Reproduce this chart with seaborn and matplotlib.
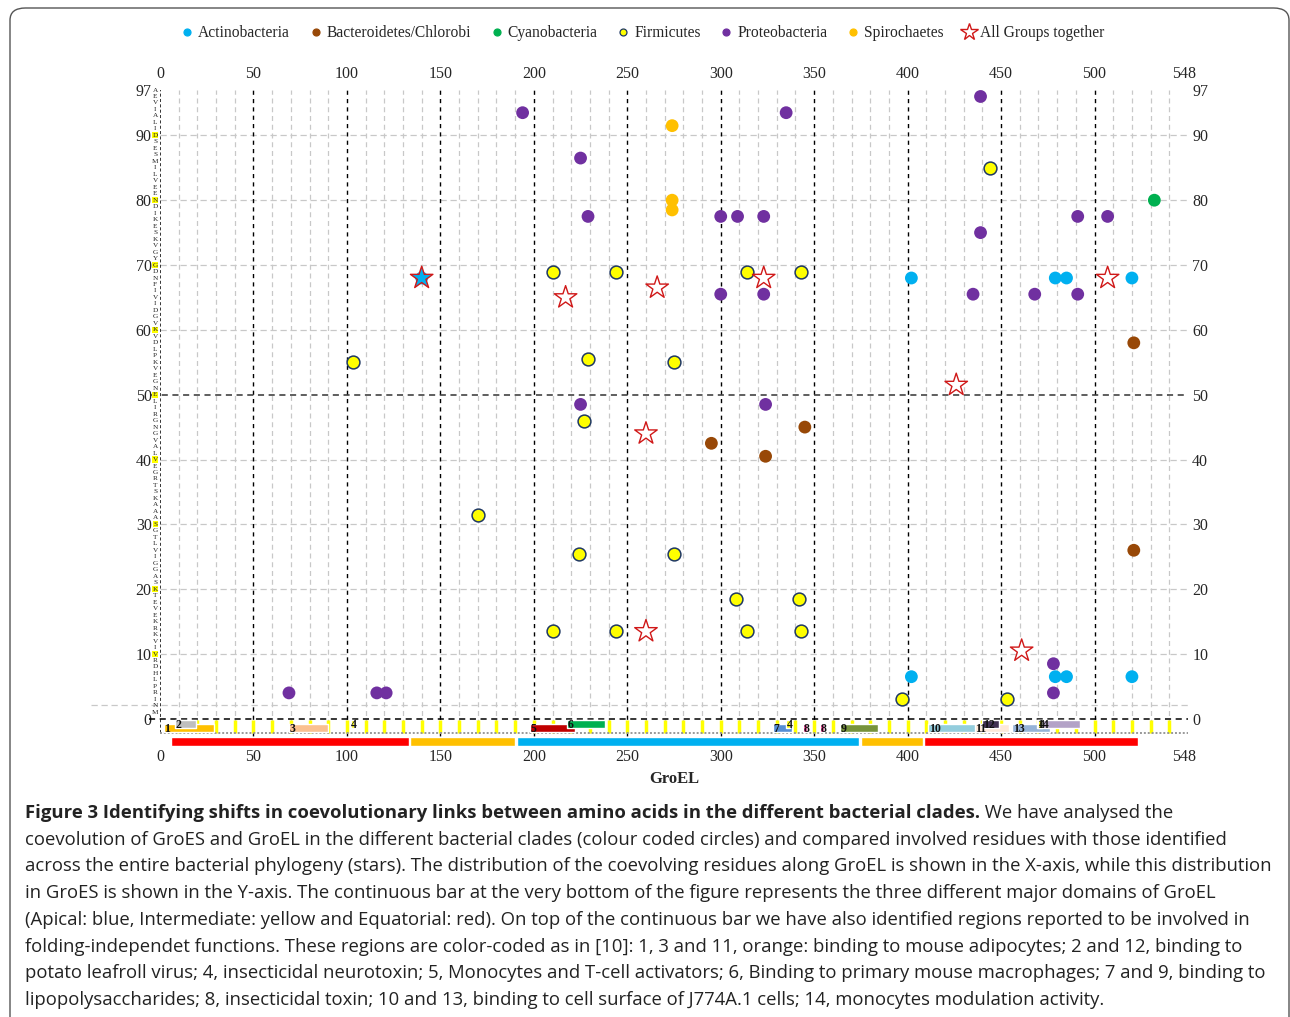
import numpy as np
import pandas as pd
import matplotlib.pyplot as plt
import matplotlib.transforms as mtrans
import seaborn as sns
from matplotlib.lines import Line2D
from matplotlib.patches import FancyBboxPatch

# GroEL residue (x) vs GroES residue (y) of the coevolving pairs, per clade
actino_x = [140, 402, 479, 485, 520, 402, 479, 485, 520]
actino_y = [68, 68, 68, 68, 68, 6.5, 6.5, 6.5, 6.5]
bactero_x = [295, 324, 345, 521, 521]
bactero_y = [42.5, 40.5, 45, 58, 26]
cyano_x = [532]
cyano_y = [80]
firmi_x = [103, 210, 244, 314, 343, 229, 275, 227, 170, 224, 275, 210, 244, 314, 343, 308, 342, 444, 397, 453]
firmi_y = [55, 69, 69, 69, 69, 55.5, 55, 46, 31.5, 25.5, 25.5, 13.5, 13.5, 13.5, 13.5, 18.5, 18.5, 85, 3, 3]
proteo_x = [194, 335, 225, 229, 300, 309, 323, 491, 507, 439, 439, 300, 323, 435, 468, 491, 225, 324, 69, 116, 121, 478, 478]
proteo_y = [93.5, 93.5, 86.5, 77.5, 77.5, 77.5, 77.5, 77.5, 77.5, 96, 75, 65.5, 65.5, 65.5, 65.5, 65.5, 48.5, 48.5, 4, 4, 4, 8.5, 4]
spiro_x = [274, 274, 274]
spiro_y = [91.5, 80, 78.5]
all_x = [140, 217, 266, 323, 507, 426, 260, 260, 461]
all_y = [68, 65, 66.5, 68, 68, 51.5, 44, 13.5, 10.5]

clades = ["Actinobacteria", "Bacteroidetes/Chlorobi", "Cyanobacteria", "Firmicutes",
          "Proteobacteria", "Spirochaetes"]
clade_x = [actino_x, bactero_x, cyano_x, firmi_x, proteo_x, spiro_x]
clade_y = [actino_y, bactero_y, cyano_y, firmi_y, proteo_y, spiro_y]
clade_colors = ["#00B0F0", "#984807", "#00B050", "#FFFF00", "#7030A0", "#FFC000"]

# GroES sequence (E. coli), residue 1..97
groes_seq = "MNIRPLHDRVIVKRKEVETKSAGGIVLTGSAAAKSTRGEVLAVGNGRILENGEVKPLDVKVGDIVIFNDGYGVKSEKIDNEEVLIMSESDILAIVEA"

# GroEL domains
dom_start = [6, 134, 191, 375, 409]
dom_end = [133, 190, 374, 408, 523]
dom_colors = ["#FF0000", "#FFC000", "#00B0F0", "#FFC000", "#FF0000"]

# folding-independent regions (start, end, label)
reg_start = [2, 8, 69, 102, 198, 218, 328, 335, 344, 353, 364, 411, 436, 440, 456, 469, 470]
reg_end = [29, 19, 90, 104, 222, 238, 338, 337, 346, 355, 384, 440, 454, 449, 476, 492, 472]
reg_label = ["1", "2", "3", "4", "5", "6", "7", "4", "8", "8", "9", "10", "11", "12", "13", "14", "4"]
reg_row = [0, 1, 0, 1, 0, 1, 0, 1, 0, 0, 0, 0, 0, 1, 0, 1, 1]
reg_colors = {"1": "#FFC000", "2": "#BFBFBF", "3": "#FAC090", "4": "#FFFF00", "5": "#C00000",
              "6": "#00B050", "7": "#558ED5", "8": "#FF3399", "9": "#77933C", "10": "#93CDDD",
              "11": "#FDE9D9", "12": "#403152", "13": "#95B3D7", "14": "#B3A2C7"}

x_ticks = [0, 50, 100, 150, 200, 250, 300, 350, 400, 450, 500, 548]
y_ticks = [0, 10, 20, 30, 40, 50, 60, 70, 80, 90, 97]

W, H = 1290, 1017
sns.set_theme(style="white")
plt.rcParams["font.family"] = ["Liberation Serif", "DejaVu Serif"]

fig = plt.figure(figsize=(W / 100, H / 100), dpi=100)
ax = fig.add_axes([160 / W, 1 - 748 / H, 1028 / W, 658 / H])
ax.set_xlim(0, 550)
ax.set_ylim(-4.5, 97)
for s in ax.spines.values():
    s.set_visible(False)

# grid
for v in range(10, 550, 10):
    if v % 50:
        ax.vlines(v, -2.2, 97, color="#C8C8C8", ls=(0, (4, 3)), lw=0.9, zorder=0)
    elif v <= 500:
        ax.vlines(v, -2.6, 97, color="black", ls=(0, (3, 3)), lw=1.0, zorder=1)
for h in range(10, 100, 10):
    if h != 50:
        ax.hlines(h, 0, 550, color="#C8C8C8", ls=(0, (5, 3)), lw=0.9, zorder=0)
ax.hlines(2.2, -37, 550, color="#C8C8C8", ls=(0, (5, 3)), lw=0.9, zorder=0, clip_on=False)
ax.hlines(50, -5, 550, color="#333333", ls=(0, (4, 3)), lw=1.1, zorder=1, clip_on=False)
ax.hlines(0, -6, 550, color="black", ls=(0, (4, 3)), lw=1.1, zorder=1, clip_on=False)
ax.vlines(0, -2.2, 97, color="black", ls=(0, (2, 1.5)), lw=1.1, zorder=1)

# bottom strip
ax.vlines(range(10, 550, 10), -2.2, -0.2, color="#FFFF00", lw=2.5, zorder=1)
ax.hlines(-2.2, 0, 550, color="#999999", ls=(0, (1, 1)), lw=1.4, zorder=2)
for s0, s1, c in zip(dom_start, dom_end, dom_colors):
    ax.broken_barh([(s0, s1 - s0)], (-4.15, 1.35), facecolors=c, zorder=3)
for s0, s1, lab, row in zip(reg_start, reg_end, reg_label, reg_row):
    y0 = -2.05 if row == 0 else -1.45
    ax.broken_barh([(s0, s1 - s0)], (y0, 1.3), facecolors=reg_colors[lab], zorder=3 + row)
    ax.text(s0 + 0.3, y0 + 0.55, lab, fontsize=8.5, fontweight="bold", color="#111111",
            ha="left", va="center", zorder=6)

# GroES sequence along the y axis
for i, aa in enumerate(groes_seq, start=1):
    kw = {}
    if i % 10 == 0:
        kw["bbox"] = dict(boxstyle="square,pad=0.08", fc="#FFFF00", ec="none")
    ax.text(-2.6, i, aa, fontsize=5.2, color="#222222", ha="center", va="center",
            clip_on=False, **kw)

# clade points
for name, xs, ys, c in zip(clades, clade_x, clade_y, clade_colors):
    df = pd.DataFrame({"GroEL": xs, "GroES": ys})
    ec = "#1F3864" if name == "Firmicutes" else "none"
    sns.scatterplot(data=df, x="GroEL", y="GroES", ax=ax, color=c, s=85,
                    edgecolor=ec, linewidth=1.1 if name == "Firmicutes" else 0, zorder=5)

# all groups together
star_fill = ["#00B0F0" if (x, y) in zip(actino_x, actino_y) else "white" for x, y in zip(all_x, all_y)]
ax.scatter(all_x, all_y, marker="*", s=290, facecolors=star_fill, edgecolors="#D01818",
           linewidths=1.0, zorder=6)

ax.set_xticks(x_ticks)
ax.set_yticks(y_ticks)
ax.tick_params(axis="x", labeltop=True, top=False, bottom=False, length=0, labelsize=11.5, pad=1)
ax.tick_params(axis="y", labelright=True, left=False, right=False, length=0, labelsize=11.5, pad=6)
ax.set_xlabel("GroEL", fontsize=12, fontweight="bold", labelpad=4)
ax.set_ylabel("")
ax.grid(False)

top_off = mtrans.ScaledTranslation(0, 4.7 / 72, fig.dpi_scale_trans)
for t in ax.xaxis.get_major_ticks():
    t.label2.set_transform(t.label2.get_transform() + top_off)
right_off = mtrans.ScaledTranslation(-3 / 72, 0, fig.dpi_scale_trans)
for t in ax.yaxis.get_major_ticks():
    t.label2.set_transform(t.label2.get_transform() + right_off)

# legend
handles = []
for name, c in zip(clades, clade_colors):
    ec = "#1F3864" if name == "Firmicutes" else c
    handles.append(Line2D([], [], ls="", marker="o", markersize=5, markerfacecolor=c,
                          markeredgecolor=ec, markeredgewidth=0.9, label=name))
handles.append(Line2D([], [], ls="", marker="*", markersize=13, markerfacecolor="white",
                      markeredgecolor="#D01818", markeredgewidth=1.0, label="All Groups together"))
fig.legend(handles=handles, loc="center", bbox_to_anchor=(643 / W, 1 - 33 / H), ncol=7,
           frameon=False, fontsize=11.2, handlelength=0.7, handletextpad=0.35, columnspacing=1.3)

# figure frame
fig.patches.append(FancyBboxPatch((10 / W, -0.05), 1279 / W, 1 - 8 / H + 0.05,
                                  boxstyle="round,pad=0,rounding_size=0.012",
                                  transform=fig.transFigure, fill=False, ec="#555555", lw=1.0))

# caption
cap_font = dict(family=["Open Sans", "DejaVu Sans"], fontsize=13.3, color="#222222", va="baseline")
bold_part = "Figure 3 Identifying shifts in coevolutionary links between amino acids in the different bacterial clades."
lines = [
    " We have analysed the",
    "coevolution of GroES and GroEL in the different bacterial clades (colour coded circles) and compared involved residues with those identified",
    "across the entire bacterial phylogeny (stars). The distribution of the coevolving residues along GroEL is shown in the X-axis, while this distribution",
    "in GroES is shown in the Y-axis. The continuous bar at the very bottom of the figure represents the three different major domains of GroEL",
    "(Apical: blue, Intermediate: yellow and Equatorial: red). On top of the continuous bar we have also identified regions reported to be involved in",
    "folding-independet functions. These regions are color-coded as in [10]: 1, 3 and 11, orange: binding to mouse adipocytes; 2 and 12, binding to",
    "potato leafroll virus; 4, insecticidal neurotoxin; 5, Monocytes and T-cell activators; 6, Binding to primary mouse macrophages; 7 and 9, binding to",
    "lipopolysaccharides; 8, insecticidal toxin; 10 and 13, binding to cell surface of J774A.1 cells; 14, monocytes modulation activity.",
]
rend = fig.canvas.get_renderer()
base0 = 818
tb = fig.text(25 / W, 1 - base0 / H, bold_part, fontweight="bold", **cap_font)
bb = tb.get_window_extent(renderer=rend)
fig.text(bb.x1 / W, 1 - base0 / H, lines[0], **cap_font)
for k, line in enumerate(lines[1:], start=1):
    fig.text(25 / W, 1 - (base0 + 26.7 * k) / H, line, **cap_font)

fig.savefig("out.png", dpi=100)
